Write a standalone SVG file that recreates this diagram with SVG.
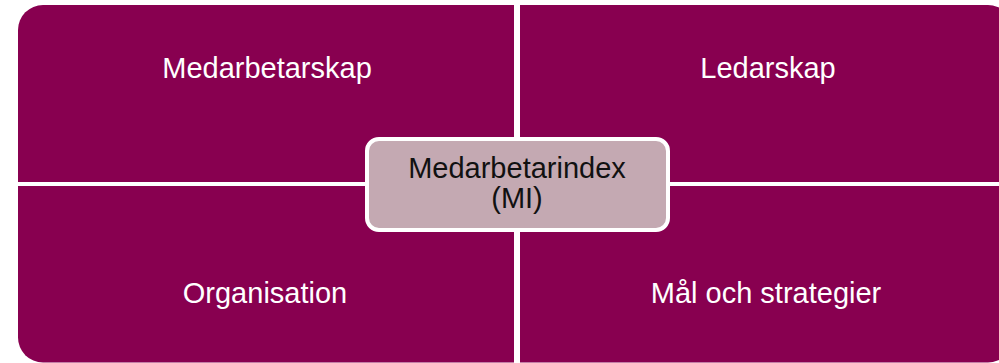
<svg xmlns="http://www.w3.org/2000/svg" width="999" height="363" viewBox="0 0 999 363">
<style>
.q{fill:#880050;}
.qt{font-family:"Liberation Sans",Arial,sans-serif;font-size:29px;fill:#ffffff;text-anchor:middle;}
.ct{font-family:"Liberation Sans",Arial,sans-serif;font-size:29px;fill:#111111;text-anchor:middle;}
</style>
<rect width="999" height="363" fill="#ffffff"/>
<g id="medarbetarskap">
<path class="q" d="M18,30 A25,25 0 0 1 43,5 H514 V182 H18 Z"/>
<text class="qt" x="267" y="78">Medarbetarskap</text>
</g>
<g id="ledarskap">
<path class="q" d="M520,5 H988 A25,25 0 0 1 1013,30 V182 H520 Z"/>
<text class="qt" x="768" y="78">Ledarskap</text>
</g>
<g id="organisation">
<path class="q" d="M18,186 H514 V362.5 H43 A25,25 0 0 1 18,337.5 Z"/>
<text class="qt" x="265" y="303">Organisation</text>
</g>
<g id="mal-och-strategier">
<path class="q" d="M520,186 H1013 V337.5 A25,25 0 0 1 988,362.5 H520 Z"/>
<text class="qt" x="766" y="303">Mål och strategier</text>
</g>
<g id="connectors"></g>
<g id="medarbetarindex">
<rect x="367" y="139" width="301" height="91" rx="12" ry="12" fill="#c4a9b2" stroke="#ffffff" stroke-width="4"/>
<text class="ct" x="517" y="178">Medarbetarindex</text>
<text class="ct" x="517" y="208">(MI)</text>
</g>
</svg>
